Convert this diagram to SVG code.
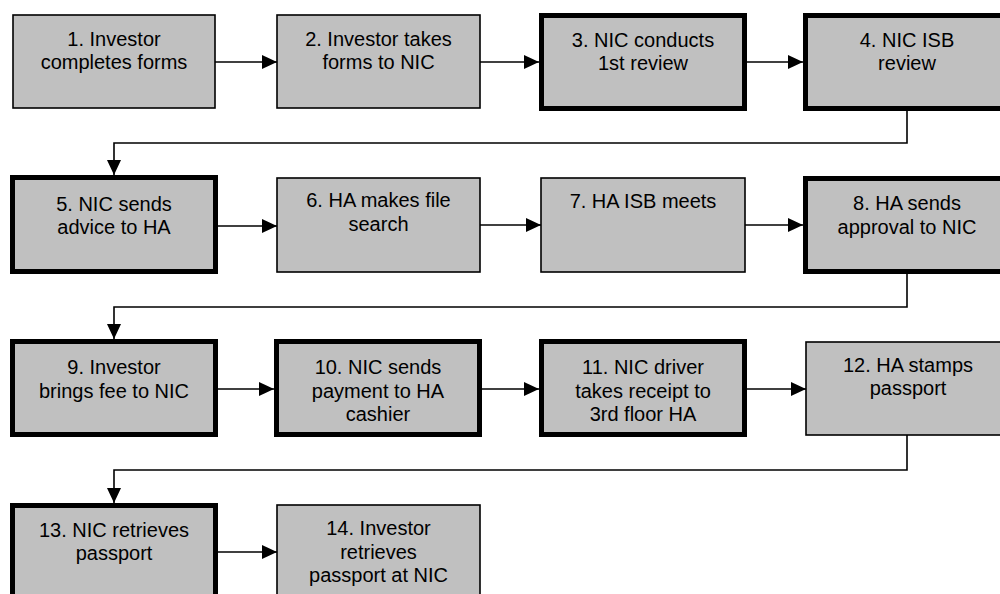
<svg xmlns="http://www.w3.org/2000/svg" width="1000" height="594" viewBox="0 0 1000 594">
<style>
.box{fill:#c0c0c0;stroke:#000;}
.thin{stroke-width:1.6;}
.thick{stroke-width:5;}
text{font-family:"Liberation Sans",Arial,sans-serif;font-size:20px;fill:#000;text-anchor:middle;}
.conn{fill:none;stroke:#000;stroke-width:1.6;}
</style>
<defs>
<marker id="arr" markerWidth="15" markerHeight="14" refX="15" refY="7" orient="auto" markerUnits="userSpaceOnUse">
<path d="M0,0 L15,7 L0,14 z" fill="#000"/>
</marker>
</defs>
<rect width="1000" height="594" fill="#fff"/>
<g id="connectors">
<line class="conn" x1="215" y1="62" x2="277" y2="62" marker-end="url(#arr)"/>
<line class="conn" x1="480" y1="62" x2="539" y2="62" marker-end="url(#arr)"/>
<line class="conn" x1="747" y1="62" x2="803" y2="62" marker-end="url(#arr)"/>
<path class="conn" d="M907,111 V143 H114 V175" marker-end="url(#arr)"/>
<line class="conn" x1="218" y1="226" x2="277" y2="226" marker-end="url(#arr)"/>
<line class="conn" x1="480" y1="225" x2="541" y2="225" marker-end="url(#arr)"/>
<line class="conn" x1="745" y1="225" x2="803" y2="225" marker-end="url(#arr)"/>
<path class="conn" d="M907,274 V307 H114 V339" marker-end="url(#arr)"/>
<line class="conn" x1="218" y1="389" x2="274" y2="389" marker-end="url(#arr)"/>
<line class="conn" x1="482" y1="389" x2="539" y2="389" marker-end="url(#arr)"/>
<line class="conn" x1="747" y1="389" x2="806" y2="389" marker-end="url(#arr)"/>
<path class="conn" d="M907,435 V470 H114 V503" marker-end="url(#arr)"/>
<line class="conn" x1="218" y1="552" x2="277" y2="552" marker-end="url(#arr)"/>
</g>
<g id="n1"><rect class="box thin" x="13" y="15" width="202" height="93"/><text x="114" y="45.5">1. Investor</text><text x="114" y="68.5">completes forms</text></g>
<g id="n2"><rect class="box thin" x="277" y="15" width="203" height="93"/><text x="378.5" y="45.5">2. Investor takes</text><text x="378.5" y="68.5">forms to NIC</text></g>
<g id="n3"><rect class="box thick" x="541.5" y="15.5" width="203" height="93"/><text x="643" y="46.5">3. NIC conducts</text><text x="643" y="70">1st review</text></g>
<g id="n4"><rect class="box thick" x="805.5" y="15.5" width="203" height="93"/><text x="907" y="46.5">4. NIC ISB</text><text x="907" y="70">review</text></g>
<g id="n5"><rect class="box thick" x="12.5" y="177.5" width="203" height="94"/><text x="114" y="210.5">5. NIC sends</text><text x="114" y="234">advice to HA</text></g>
<g id="n6"><rect class="box thin" x="277" y="178" width="203" height="94"/><text x="378.5" y="207">6. HA makes file</text><text x="378.5" y="231">search</text></g>
<g id="n7"><rect class="box thin" x="541" y="178" width="204" height="94"/><text x="643" y="208">7. HA ISB meets</text></g>
<g id="n8"><rect class="box thick" x="805.5" y="178.5" width="203" height="93"/><text x="907" y="210">8. HA sends</text><text x="907" y="234">approval to NIC</text></g>
<g id="n9"><rect class="box thick" x="12.5" y="341.5" width="203" height="93"/><text x="114" y="374">9. Investor</text><text x="114" y="397.5">brings fee to NIC</text></g>
<g id="n10"><rect class="box thick" x="276.5" y="341.5" width="203" height="93"/><text x="378" y="374">10. NIC sends</text><text x="378" y="397.5">payment to HA</text><text x="378" y="421">cashier</text></g>
<g id="n11"><rect class="box thick" x="541.5" y="341.5" width="203" height="93"/><text x="643" y="374">11. NIC driver</text><text x="643" y="397.5">takes receipt to</text><text x="643" y="421">3rd floor HA</text></g>
<g id="n12"><rect class="box thin" x="806" y="342" width="203" height="93"/><text x="908" y="372">12. HA stamps</text><text x="908" y="395">passport</text></g>
<g id="n13"><rect class="box thick" x="12.5" y="505.5" width="203" height="93"/><text x="114" y="536.5">13. NIC retrieves</text><text x="114" y="560">passport</text></g>
<g id="n14"><rect class="box thin" x="277" y="505" width="203" height="93"/><text x="378.5" y="535">14. Investor</text><text x="378.5" y="558.5">retrieves</text><text x="378.5" y="581.5">passport at NIC</text></g>
</svg>
